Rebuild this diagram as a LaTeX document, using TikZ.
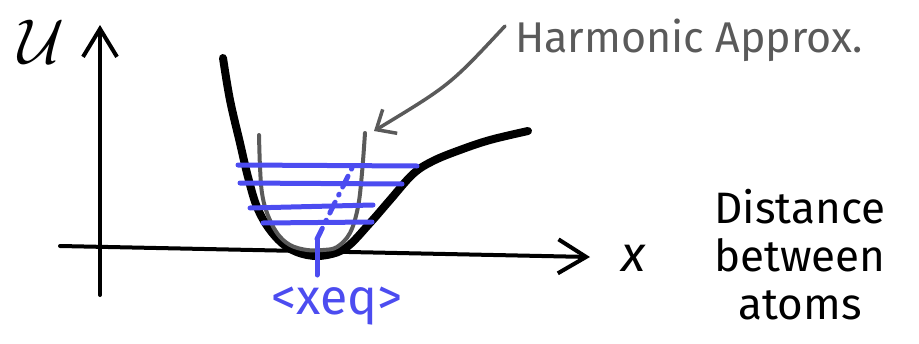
\documentclass[tikz,border=0pt]{standalone}
\usepackage{fontspec}
\setmainfont{Fira Sans}
\usetikzlibrary{arrows.meta}
\definecolor{penblue}{RGB}{76,76,240}
\definecolor{pengray}{RGB}{90,90,90}
\begin{document}
\begin{tikzpicture}[x=1pt,y=-1pt,
  axisline/.style={line width=4pt, line cap=round, -{Straight Barb[length=28pt,width=34pt]}},
  morse/.style={line width=8pt, line cap=round, line join=round},
  harmonic/.style={pengray, line width=4pt, line cap=round, line join=round},
  level/.style={penblue, line width=5pt, line cap=round},
  pointer/.style={pengray, line width=3.5pt, line cap=round, -{Straight Barb[length=16pt,width=28pt]}},
  hand/.style={font=\fontsize{44}{48}\selectfont, inner sep=0pt}]
\useasboundingbox (0,0) rectangle (919,343);

% axes
\coordinate (yb) at (100,295);
\coordinate (yt) at (100,25);
\coordinate (xl) at (60,246);
\coordinate (xr) at (590,257);
\draw[axisline] (yb) -- (yt);
\draw[axisline] (xl) -- (xr);

\node[hand] (ulabel) at (42,42) {\resizebox{46pt}{!}{$\mathcal{U}$}};
\node[hand, font=\fontsize{50}{50}\selectfont\itshape] (xlabel) at (633,258) {x};
\node[hand, align=center] (dist) at (800,255) {Distance\\between\\atoms};

% Morse-like potential
\draw[morse] plot[smooth, tension=0.6] coordinates {(223,58) (230,100) (240,143) (248,177) (257,207) (270,230) (287,247) (307,255) (327,255) (347,247) (370,223) (390,200) (413,174) (433,161) (460,150) (490,140) (528,131)};

% harmonic approximation
\draw[harmonic] plot[smooth, tension=0.6] coordinates {(259,135) (260,167) (262,193) (267,213) (277,233) (290,245) (307,250) (323,250) (337,247) (350,233) (358,207) (362,173) (365,133)};

% energy levels
\draw[level] (238,165) -- (417,166);
\draw[level] (240,183) -- (402,184);
\draw[level] (250,208) -- (373,205);
\draw[level] (263,223) -- (372,222);

% equilibrium marker
\coordinate (eqb) at (317,275);
\coordinate (eqm) at (317,239);
\coordinate (eqt) at (355,162);
\draw[level] (eqb) -- (eqm);
\draw[level, dash pattern=on 12pt off 8pt on 1pt off 8pt] (eqm) -- (eqt);
\node[hand, penblue, font=\fontsize{50}{54}\selectfont] (xeq) at (337,306) {<xeq>};

% label and pointer
\node[hand, pengray, anchor=west, font=\fontsize{43}{46}\selectfont] (harm) at (515,40) {Harmonic Approx.};
\coordinate (ptop) at (374,131);
\draw[pointer] ([xshift=-10pt,yshift=14pt]harm.west) .. controls (450,85) .. (ptop);
\end{tikzpicture}
\end{document}
